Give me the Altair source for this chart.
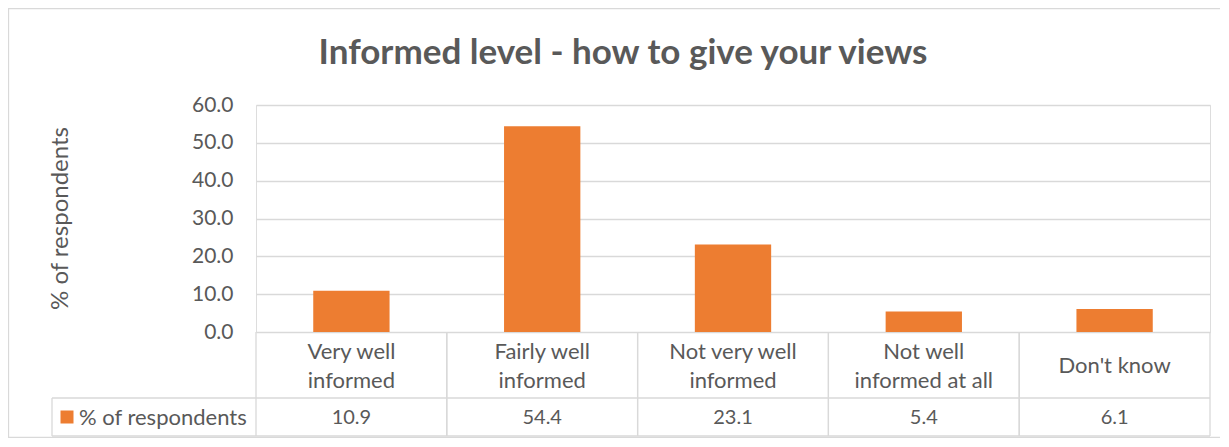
import altair as alt
import pandas as pd

categories = ["Very well informed", "Fairly well informed", "Not very well informed",
              "Not well informed at all", "Don't know"]
labels = ["Very well\ninformed", "Fairly well\ninformed", "Not very well\ninformed",
          "Not well\ninformed at all", "Don't know"]
values = [10.9, 54.4, 23.1, 5.4, 6.1]
y_ticks = [0, 10, 20, 30, 40, 50, 60]
series_name = "% of respondents"
title_text = "Informed level - how to give your views"

ORANGE = "#ED7D31"
GRID = "#d9d9d9"
TXT = "#595959"
FONT = "Lato"
W, H = 954, 227

df = pd.DataFrame({"cat": categories, "label": labels, "value": values})

xband = alt.X("cat:N", sort=categories,
              scale=alt.Scale(paddingInner=0, paddingOuter=0), axis=None)

base = alt.Chart(df)

bars = base.mark_bar(width=alt.RelativeBandSize(0.4), color=ORANGE).encode(
    x=xband,
    y=alt.Y("value:Q", scale=alt.Scale(domain=[0, 60], nice=False),
            axis=alt.Axis(values=y_ticks, format=".1f", labelFontSize=21,
                          labelColor=TXT, labelFont=FONT, labelPadding=23,
                          ticks=False, domain=False, gridColor=GRID, gridWidth=1.3,
                          title=series_name, titleFont=FONT, titleFontSize=24,
                          titleFontWeight="normal", titleColor=TXT,
                          titleX=-196, titleY=113, titleAngle=-90,
                          titleAlign="center", titleBaseline="middle")),
)

cat_text = base.transform_calculate(
    ypix="261 - (length(split(datum.label, '\\n')) - 1) * 14.5"
).mark_text(fontSize=22, color=TXT, font=FONT, lineBreak="\n",
            lineHeight=29, baseline="middle").encode(
    x=xband, y=alt.Y("ypix:Q", scale=None, axis=None), text="label:N")

val_text = base.mark_text(fontSize=20, color=TXT, font=FONT, baseline="middle").encode(
    x=xband, y=alt.value(313), text=alt.Text("value:Q", format=".1f"))

vlines0 = base.mark_rule(color=GRID, strokeWidth=1.3).encode(
    x=alt.X("cat:N", sort=categories, bandPosition=0,
            scale=alt.Scale(paddingInner=0, paddingOuter=0), axis=None),
    y=alt.value(227), y2=alt.value(331))
vlines1 = base.mark_rule(color=GRID, strokeWidth=1.3).encode(
    x=alt.X("cat:N", sort=categories, bandPosition=1,
            scale=alt.Scale(paddingInner=0, paddingOuter=0), axis=None),
    y=alt.value(227), y2=alt.value(331))

one = alt.Chart(pd.DataFrame({"name": [series_name], "title": [title_text]}))
hline1 = one.mark_rule(color=GRID, strokeWidth=1.3).encode(
    x=alt.value(-204), x2=alt.value(W), y=alt.value(293))
hline2 = one.mark_rule(color=GRID, strokeWidth=1.3).encode(
    x=alt.value(-204), x2=alt.value(W), y=alt.value(331))
vleft = one.mark_rule(color=GRID, strokeWidth=1.3).encode(
    x=alt.value(-204), y=alt.value(293), y2=alt.value(331))
legend_sq = one.mark_square(size=169, color=ORANGE, opacity=1).encode(
    x=alt.value(-189), y=alt.value(312))
legend_txt = one.mark_text(fontSize=22, color=TXT, font=FONT, align="left",
                           baseline="middle").encode(
    x=alt.value(-177), y=alt.value(313), text="name:N")
title_mark = one.mark_text(fontSize=35, fontWeight="bold", color=TXT, font=FONT,
                           align="center", baseline="middle").encode(
    x=alt.value(367), y=alt.value(-52), text="title:N")
border = one.mark_rect(filled=False, stroke=GRID, strokeWidth=1.3).encode(
    x=alt.value(-247.5), x2=alt.value(966), y=alt.value(-96.5), y2=alt.value(332.5))

chart = alt.layer(
    border, bars, vlines0, vlines1, hline1, hline2, vleft,
    cat_text, val_text, legend_sq, legend_txt, title_mark
).properties(
    width=W, height=H,
    autosize=alt.AutoSizeParams(type="none"),
    padding={"left": 248, "top": 97, "right": 10, "bottom": 106},
).configure_view(stroke=None).configure(background="white")

chart.save("out.html", embed_options={"renderer": "svg", "actions": False})
